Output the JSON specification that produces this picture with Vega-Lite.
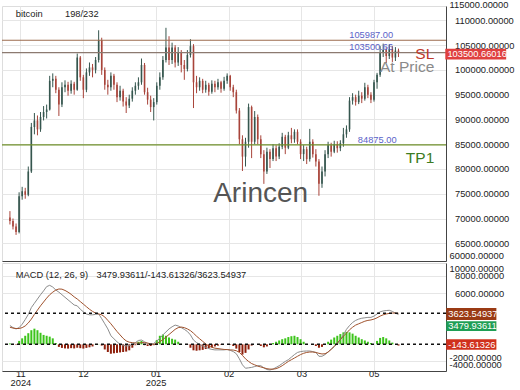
{
"$schema": "https://vega.github.io/schema/vega-lite/v6.json",
"padding": 0,
"autosize": {"type": "pad"},
"background": "#ffffff",
"spacing": 0,
"config": {
 "font": "Liberation Sans",
 "view": {"stroke": "#dddddd"},
 "axis": {"labelFont": "Liberation Sans", "labelFontSize": 9.3, "labelColor": "#222222", "gridColor": "#e6e6e6", "domainColor": "#444444", "ticks": false, "labelOverlap": false},
 "text": {"font": "Liberation Sans"}
},
"resolve": {"scale": {"y": "independent"}},
"datasets": {
"k": [
{"i":0,"o":70200,"h":71500,"l":68800,"c":69500,"m":2200,"s":2000,"d":100},
{"i":1,"o":69500,"h":70000,"l":67800,"c":68400,"m":1950,"s":1900,"d":50},
{"i":2,"o":68400,"h":69000,"l":66700,"c":67300,"m":1800,"s":1850,"d":-50},
{"i":3,"o":67300,"h":75300,"l":67000,"c":74500,"m":1950,"s":1850,"d":400},
{"i":4,"o":74500,"h":76400,"l":73800,"c":75500,"m":2350,"s":1950,"d":700},
{"i":5,"o":75500,"h":76200,"l":74000,"c":74800,"m":2900,"s":2150,"d":1000},
{"i":6,"o":74800,"h":80500,"l":74500,"c":79500,"m":3500,"s":2500,"d":1300},
{"i":7,"o":79500,"h":89300,"l":79200,"c":88500,"m":4300,"s":2950,"d":1650},
{"i":8,"o":88500,"h":91300,"l":87000,"c":89800,"m":4800,"s":3500,"d":1830},
{"i":9,"o":89800,"h":90800,"l":86800,"c":88000,"m":5300,"s":4000,"d":1650},
{"i":10,"o":88000,"h":91500,"l":87500,"c":90500,"m":5800,"s":4500,"d":1350},
{"i":11,"o":90500,"h":92700,"l":89800,"c":91500,"m":6250,"s":4950,"d":1100},
{"i":12,"o":91500,"h":93000,"l":90200,"c":92000,"m":6750,"s":5400,"d":1000},
{"i":13,"o":92000,"h":98800,"l":91800,"c":97800,"m":6900,"s":5800,"d":900},
{"i":14,"o":97800,"h":99300,"l":96500,"c":98200,"m":6700,"s":6100,"d":700},
{"i":15,"o":98200,"h":98800,"l":95300,"c":96000,"m":6350,"s":6350,"d":150},
{"i":16,"o":96000,"h":96500,"l":90700,"c":93000,"m":6100,"s":6470,"d":-300},
{"i":17,"o":93000,"h":97500,"l":92500,"c":96500,"m":5800,"s":6450,"d":-420},
{"i":18,"o":96500,"h":97900,"l":95500,"c":97000,"m":5500,"s":6300,"d":-480},
{"i":19,"o":97000,"h":97600,"l":94800,"c":95800,"m":5200,"s":6100,"d":-500},
{"i":20,"o":95800,"h":97900,"l":95200,"c":97200,"m":4900,"s":5850,"d":-450},
{"i":21,"o":97200,"h":97600,"l":95000,"c":96000,"m":4600,"s":5550,"d":-480},
{"i":22,"o":96000,"h":103300,"l":95800,"c":102500,"m":4500,"s":5300,"d":-400},
{"i":23,"o":102500,"h":102800,"l":97800,"c":98500,"m":4100,"s":5000,"d":-450},
{"i":24,"o":98500,"h":99000,"l":94300,"c":96000,"m":3800,"s":4700,"d":-500},
{"i":25,"o":96000,"h":100300,"l":95500,"c":99500,"m":3550,"s":4400,"d":-420},
{"i":26,"o":99500,"h":101500,"l":98800,"c":100500,"m":3450,"s":4100,"d":-350},
{"i":27,"o":100500,"h":101200,"l":98500,"c":100000,"m":3450,"s":3850,"d":-250},
{"i":28,"o":100000,"h":102600,"l":99300,"c":102000,"m":3500,"s":3650,"d":30},
{"i":29,"o":102000,"h":108000,"l":101500,"c":106000,"m":3550,"s":3550,"d":20},
{"i":30,"o":106000,"h":106500,"l":99000,"c":100000,"m":3000,"s":3450,"d":-150},
{"i":31,"o":100000,"h":100500,"l":96000,"c":97000,"m":2400,"s":3200,"d":-600},
{"i":32,"o":97000,"h":98000,"l":95000,"c":96500,"m":1800,"s":2800,"d":-900},
{"i":33,"o":96500,"h":99500,"l":95800,"c":98800,"m":1000,"s":2400,"d":-1100},
{"i":34,"o":98800,"h":99200,"l":96000,"c":97000,"m":650,"s":1950,"d":-1050},
{"i":35,"o":97000,"h":97500,"l":93500,"c":94500,"m":300,"s":1500,"d":-1000},
{"i":36,"o":94500,"h":96800,"l":93800,"c":95800,"m":0,"s":1100,"d":-950},
{"i":37,"o":95800,"h":96200,"l":92600,"c":93600,"m":-100,"s":700,"d":-900},
{"i":38,"o":93600,"h":94500,"l":91300,"c":92800,"m":-200,"s":400,"d":-850},
{"i":39,"o":92800,"h":95000,"l":92300,"c":94200,"m":-150,"s":250,"d":-700},
{"i":40,"o":94200,"h":96500,"l":93600,"c":95800,"m":-50,"s":200,"d":-400},
{"i":41,"o":95800,"h":97500,"l":95000,"c":96800,"m":200,"s":150,"d":-100},
{"i":42,"o":96800,"h":98500,"l":96000,"c":97500,"m":450,"s":150,"d":300},
{"i":43,"o":97500,"h":102300,"l":97000,"c":101000,"m":500,"s":200,"d":400},
{"i":44,"o":101000,"h":101400,"l":95000,"c":95500,"m":300,"s":200,"d":-100},
{"i":45,"o":95500,"h":96400,"l":93000,"c":94000,"m":100,"s":150,"d":-200},
{"i":46,"o":94000,"h":94800,"l":91500,"c":92500,"m":0,"s":50,"d":-200},
{"i":47,"o":92500,"h":94300,"l":89800,"c":93500,"m":100,"s":0,"d":-100},
{"i":48,"o":93500,"h":97500,"l":93000,"c":96800,"m":400,"s":100,"d":500},
{"i":49,"o":96800,"h":99500,"l":96000,"c":98500,"m":700,"s":300,"d":1000},
{"i":50,"o":98500,"h":102800,"l":98000,"c":102000,"m":1100,"s":550,"d":1150},
{"i":51,"o":102000,"h":108500,"l":101500,"c":104500,"m":1450,"s":850,"d":1000},
{"i":52,"o":104500,"h":106800,"l":101000,"c":102000,"m":1800,"s":1150,"d":800},
{"i":53,"o":102000,"h":105500,"l":101200,"c":104500,"m":2050,"s":1450,"d":650},
{"i":54,"o":104500,"h":105000,"l":100500,"c":101500,"m":2250,"s":1750,"d":550},
{"i":55,"o":101500,"h":104600,"l":100800,"c":103500,"m":2150,"s":1950,"d":300},
{"i":56,"o":103500,"h":104000,"l":99500,"c":101000,"m":1950,"s":2020,"d":50},
{"i":57,"o":101000,"h":102000,"l":98000,"c":100200,"m":1750,"s":1950,"d":0},
{"i":58,"o":100200,"h":104000,"l":99700,"c":103000,"m":1500,"s":1800,"d":-50},
{"i":59,"o":103000,"h":106200,"l":102500,"c":104800,"m":1100,"s":1600,"d":-400},
{"i":60,"o":104800,"h":105200,"l":92300,"c":97500,"m":500,"s":1300,"d":-700},
{"i":61,"o":97500,"h":98800,"l":95300,"c":96500,"m":200,"s":950,"d":-750},
{"i":62,"o":96500,"h":98500,"l":95800,"c":97800,"m":0,"s":650,"d":-700},
{"i":63,"o":97800,"h":98200,"l":95300,"c":96000,"m":-200,"s":350,"d":-650},
{"i":64,"o":96000,"h":97800,"l":95400,"c":97000,"m":-350,"s":50,"d":-550},
{"i":65,"o":97000,"h":97400,"l":94800,"c":95600,"m":-500,"s":-200,"d":-450},
{"i":66,"o":95600,"h":97900,"l":95200,"c":97200,"m":-600,"s":-350,"d":-350},
{"i":67,"o":97200,"h":97800,"l":95500,"c":96500,"m":-650,"s":-450,"d":-250},
{"i":68,"o":96500,"h":98200,"l":96000,"c":97500,"m":-650,"s":-500,"d":-150},
{"i":69,"o":97500,"h":97800,"l":95400,"c":96200,"m":-650,"s":-550,"d":-50},
{"i":70,"o":96200,"h":98600,"l":95800,"c":97800,"m":-650,"s":-600,"d":0},
{"i":71,"o":97800,"h":99300,"l":97200,"c":98800,"m":-600,"s":-620,"d":0},
{"i":72,"o":98800,"h":99000,"l":95800,"c":96500,"m":-700,"s":-650,"d":-50},
{"i":73,"o":96500,"h":97000,"l":94500,"c":95500,"m":-850,"s":-670,"d":-200},
{"i":74,"o":95500,"h":96000,"l":91200,"c":91800,"m":-1100,"s":-750,"d":-500},
{"i":75,"o":91800,"h":92300,"l":85000,"c":86000,"m":-1700,"s":-950,"d":-900},
{"i":76,"o":86000,"h":86800,"l":79600,"c":82500,"m":-2400,"s":-1300,"d":-1200},
{"i":77,"o":82500,"h":86300,"l":80500,"c":85500,"m":-2800,"s":-1700,"d":-1000},
{"i":78,"o":85500,"h":93200,"l":84300,"c":92500,"m":-2750,"s":-2000,"d":-600},
{"i":79,"o":92500,"h":92800,"l":82200,"c":85500,"m":-2700,"s":-2250,"d":-150},
{"i":80,"o":85500,"h":91700,"l":85000,"c":90500,"m":-2600,"s":-2400,"d":0},
{"i":81,"o":90500,"h":91000,"l":85000,"c":86000,"m":-2500,"s":-2550,"d":0},
{"i":82,"o":86000,"h":86800,"l":82200,"c":83000,"m":-2500,"s":-2650,"d":-200},
{"i":83,"o":83000,"h":83800,"l":77000,"c":79500,"m":-2750,"s":-2750,"d":-350},
{"i":84,"o":79500,"h":84300,"l":79000,"c":83500,"m":-2950,"s":-2850,"d":-250},
{"i":85,"o":83500,"h":84000,"l":80200,"c":82000,"m":-3000,"s":-2900,"d":0},
{"i":86,"o":82000,"h":85000,"l":81600,"c":84200,"m":-2900,"s":-2900,"d":150},
{"i":87,"o":84200,"h":84800,"l":81600,"c":82500,"m":-2700,"s":-2850,"d":300},
{"i":88,"o":82500,"h":85200,"l":82000,"c":84500,"m":-2500,"s":-2700,"d":450},
{"i":89,"o":84500,"h":87300,"l":84000,"c":86500,"m":-2250,"s":-2500,"d":600},
{"i":90,"o":86500,"h":86900,"l":83000,"c":84300,"m":-2000,"s":-2250,"d":700},
{"i":91,"o":84300,"h":87500,"l":84000,"c":86800,"m":-1800,"s":-2000,"d":850},
{"i":92,"o":86800,"h":88300,"l":85200,"c":86000,"m":-1500,"s":-1800,"d":950},
{"i":93,"o":86000,"h":88000,"l":85300,"c":87500,"m":-1200,"s":-1600,"d":1000},
{"i":94,"o":87500,"h":88000,"l":85000,"c":85500,"m":-950,"s":-1400,"d":850},
{"i":95,"o":85500,"h":86000,"l":82000,"c":83000,"m":-850,"s":-1200,"d":600},
{"i":96,"o":83000,"h":84800,"l":81600,"c":84000,"m":-800,"s":-1050,"d":300},
{"i":97,"o":84000,"h":84500,"l":81000,"c":82000,"m":-780,"s":-950,"d":50},
{"i":98,"o":82000,"h":88100,"l":81500,"c":85500,"m":-780,"s":-900,"d":0},
{"i":99,"o":85500,"h":86000,"l":82300,"c":83000,"m":-850,"s":-900,"d":-50},
{"i":100,"o":83000,"h":84000,"l":80500,"c":81500,"m":-950,"s":-950,"d":-200},
{"i":101,"o":81500,"h":82000,"l":74600,"c":77000,"m":-1400,"s":-1050,"d":-400},
{"i":102,"o":77000,"h":80500,"l":76200,"c":79500,"m":-1400,"s":-1130,"d":-300},
{"i":103,"o":79500,"h":83800,"l":78500,"c":83000,"m":-1200,"s":-1100,"d":0},
{"i":104,"o":83000,"h":85500,"l":82200,"c":84800,"m":-900,"s":-900,"d":300},
{"i":105,"o":84800,"h":85300,"l":82500,"c":83500,"m":-550,"s":-600,"d":550},
{"i":106,"o":83500,"h":85700,"l":83200,"c":85000,"m":-250,"s":-250,"d":800},
{"i":107,"o":85000,"h":85600,"l":83300,"c":84200,"m":50,"s":150,"d":1000},
{"i":108,"o":84200,"h":85800,"l":83600,"c":85200,"m":550,"s":550,"d":1200},
{"i":109,"o":85200,"h":88300,"l":84500,"c":87000,"m":1100,"s":950,"d":1400},
{"i":110,"o":87000,"h":88800,"l":86300,"c":88000,"m":1750,"s":1300,"d":1450},
{"i":111,"o":88000,"h":94500,"l":87500,"c":93800,"m":2200,"s":1700,"d":1400},
{"i":112,"o":93800,"h":95300,"l":93000,"c":94500,"m":2550,"s":2000,"d":1250},
{"i":113,"o":94500,"h":95000,"l":92800,"c":93500,"m":2800,"s":2250,"d":1000},
{"i":114,"o":93500,"h":95800,"l":93100,"c":94800,"m":2950,"s":2400,"d":800},
{"i":115,"o":94800,"h":95500,"l":93300,"c":94200,"m":3050,"s":2550,"d":600},
{"i":116,"o":94200,"h":97400,"l":93800,"c":96500,"m":3100,"s":2700,"d":450},
{"i":117,"o":96500,"h":97000,"l":94300,"c":95000,"m":3150,"s":2800,"d":300},
{"i":118,"o":95000,"h":95500,"l":93300,"c":94000,"m":3150,"s":2850,"d":150},
{"i":119,"o":94000,"h":98000,"l":93600,"c":97500,"m":3300,"s":2950,"d":0},
{"i":120,"o":97500,"h":99400,"l":96200,"c":99000,"m":3550,"s":3100,"d":400},
{"i":121,"o":99000,"h":104800,"l":98600,"c":103500,"m":3800,"s":3300,"d":750},
{"i":122,"o":103500,"h":105300,"l":102600,"c":104000,"m":3900,"s":3450,"d":850},
{"i":123,"o":104000,"h":104600,"l":101400,"c":102800,"m":3950,"s":3550,"d":700},
{"i":124,"o":102800,"h":105200,"l":102200,"c":104200,"m":3980,"s":3620,"d":450},
{"i":125,"o":104200,"h":104800,"l":101600,"c":102500,"m":3850,"s":3660,"d":200},
{"i":126,"o":102500,"h":104600,"l":101800,"c":103900,"m":3650,"s":3650,"d":0},
{"i":127,"o":103900,"h":104300,"l":102600,"c":103500.66016,"m":3479.93611,"s":3623.54937,"d":-143.61326}
],
"lv": [{"v":105987,"col":"#9c6b4e"},{"v":103500.66,"col":"#8c7a70"},{"v":84875,"col":"#6f8f2a"}],
"lt": [
 {"x":1.92,"y":111350,"t":"bitcoin","col":"#222222"},
 {"x":18,"y":111350,"t":"198/232","col":"#222222"},
 {"x":110.9,"y":107050,"t":"105987.00","col":"#5b62c8"},
 {"x":110.9,"y":104630,"t":"103500.66","col":"#5b62c8"},
 {"x":113.7,"y":85860,"t":"84875.00","col":"#5b62c8"}
],
"rt": [
 {"x":138.7,"y":103160,"t":"SL","col":"#c0392b"},
 {"x":138.7,"y":100650,"t":"At Price","col":"#8a8a8a"},
 {"x":138.7,"y":82225,"t":"TP1","col":"#3d7b22"}
],
"wm": [{"x":81.95,"y":74960,"t":"Arincen"}],
"ttag": [{"x1":142.3,"x2":162.2,"y1":104250,"y2":102100,"tx":143,"ty":103200,"t":"103500.66016","col":"#e0403f"}],
"tclamp": [{"x":143.7,"y":113100,"t":"115000.00000"},{"x":143.7,"y":62500,"t":"60000.00000"}],
"mlv": [{"v":3623.54937},{"v":0}],
"mt": [{"x":1.92,"y":8070,"t":"MACD (12, 26, 9)"},{"x":28.3,"y":8070,"t":"3479.93611/-143.61326/3623.54937"}],
"mtag": [
 {"x1":142.6,"x2":159,"y1":4245,"y2":2842,"tx":143.3,"ty":3600,"t":"3623.54937","col":"#9a3a14"},
 {"x1":142.6,"x2":159,"y1":2690,"y2":1555,"tx":143.3,"ty":2140,"t":"3479.93611","col":"#1f9e55"},
 {"x1":142.6,"x2":159,"y1":585,"y2":-632,"tx":143.3,"ty":-47,"t":"-143.61326","col":"#d0301c"}
],
"mclamp": [{"x":143.7,"y":8770,"t":"10000.00000"},{"x":143.7,"y":-1570,"t":"-2000.00000"},{"x":143.7,"y":-2456,"t":"-4000.00000"}]
},
"vconcat": [
{
 "width": 444,
 "height": 255,
 "layer": [
  {
   "data": {"name": "k"},
   "mark": {"type": "rule", "strokeWidth": 1},
   "encoding": {
    "x": {"field": "i", "type": "quantitative", "title": null,
     "scale": {"domain": [-0.958, 140.9], "nice": false, "zero": false},
     "axis": {"orient": "bottom", "values": [3.42, 23.87, 47.6, 71.47, 95.3, 118.9], "tickCount": 20, "labels": false, "ticks": false, "domain": true, "grid": true, "title": null}},
    "y": {"field": "l", "type": "quantitative", "title": null,
     "scale": {"domain": [61430, 112900], "nice": false, "zero": false},
     "axis": {"orient": "right", "values": [65000, 70000, 75000, 80000, 85000, 90000, 95000, 100000, 105000, 110000], "tickCount": 20, "format": ".5f", "grid": true, "domain": true, "labelPadding": 8.5, "labelOverlap": false, "title": null}},
    "y2": {"field": "h"},
    "color": {"condition": {"test": "datum.c >= datum.o", "value": "#35564e"}, "value": "#a8443a"}
   }
  },
  {
   "data": {"name": "k"},
   "mark": {"type": "bar", "size": 1.6},
   "encoding": {
    "x": {"field": "i", "type": "quantitative", "title": null},
    "y": {"field": "o", "type": "quantitative", "title": null},
    "y2": {"field": "c"},
    "color": {"condition": {"test": "datum.c >= datum.o", "value": "#35564e"}, "value": "#a8443a"}
   }
  },
  {
   "data": {"name": "lv"},
   "mark": {"type": "rule", "strokeWidth": 1.2},
   "encoding": {
    "y": {"field": "v", "type": "quantitative", "title": null},
    "color": {"field": "col", "type": "nominal", "scale": null}
   }
  },
  {
   "data": {"name": "lt"},
   "mark": {"type": "text", "align": "left", "baseline": "middle", "fontSize": 9.3},
   "encoding": {
    "x": {"field": "x", "type": "quantitative", "title": null},
    "y": {"field": "y", "type": "quantitative", "title": null},
    "text": {"field": "t"},
    "color": {"field": "col", "type": "nominal", "scale": null}
   }
  },
  {
   "data": {"name": "rt"},
   "mark": {"type": "text", "align": "right", "baseline": "middle", "fontSize": 15.5},
   "encoding": {
    "x": {"field": "x", "type": "quantitative", "title": null},
    "y": {"field": "y", "type": "quantitative", "title": null},
    "text": {"field": "t"},
    "color": {"field": "col", "type": "nominal", "scale": null}
   }
  },
  {
   "data": {"name": "wm"},
   "mark": {"type": "text", "align": "center", "baseline": "middle", "fontSize": 28, "color": "#555555"},
   "encoding": {
    "x": {"field": "x", "type": "quantitative", "title": null},
    "y": {"field": "y", "type": "quantitative", "title": null},
    "text": {"field": "t"}
   }
  },
  {
   "data": {"name": "ttag"},
   "mark": {"type": "rect"},
   "encoding": {
    "x": {"field": "x1", "type": "quantitative", "title": null},
    "x2": {"field": "x2"},
    "y": {"field": "y1", "type": "quantitative", "title": null},
    "y2": {"field": "y2"},
    "color": {"field": "col", "type": "nominal", "scale": null}
   }
  },
  {
   "data": {"name": "ttag"},
   "mark": {"type": "text", "align": "left", "baseline": "middle", "fontSize": 9.3, "color": "#ffffff"},
   "encoding": {
    "x": {"field": "tx", "type": "quantitative", "title": null},
    "y": {"field": "ty", "type": "quantitative", "title": null},
    "text": {"field": "t"}
   }
  },
  {
   "data": {"name": "tclamp"},
   "mark": {"type": "text", "align": "left", "baseline": "middle", "fontSize": 9.3, "color": "#222222"},
   "encoding": {
    "x": {"field": "x", "type": "quantitative", "title": null},
    "y": {"field": "y", "type": "quantitative", "title": null},
    "text": {"field": "t"}
   }
  }
 ]
},
{
 "width": 444,
 "height": 108,
 "layer": [
  {
   "data": {"name": "k"},
   "mark": {"type": "bar", "size": 2},
   "encoding": {
    "x": {"field": "i", "type": "quantitative", "title": null,
     "scale": {"domain": [-0.958, 140.9], "nice": false, "zero": false},
     "axis": {"orient": "bottom", "values": [3.42, 23.87, 47.6, 71.47, 95.3, 118.9], "tickCount": 20, "grid": true, "domain": true, "ticks": false, "labelPadding": -2, "labelLineHeight": 9.3, "labelOverlap": false, "labelFlush": false, "title": null,
      "labelExpr": "datum.value < 10 ? ['11', '2024'] : datum.value < 30 ? '12' : datum.value < 60 ? ['01', '2025'] : datum.value < 80 ? '02' : datum.value < 100 ? '03' : '05'"}},
    "y": {"field": "d", "type": "quantitative", "title": null,
     "scale": {"domain": [-3120, 9510], "nice": false, "zero": false},
     "axis": {"orient": "right", "values": [8000, 6000, -2000], "tickCount": 20, "format": ".5f", "grid": true, "domain": true, "labelPadding": 8.5, "labelOverlap": false, "title": null,
      "labelExpr": "datum.value == -2000 ? '' : datum.label"}},
    "y2": {"datum": 0},
    "color": {"condition": {"test": "datum.d >= 0", "value": "#3cc41a"}, "value": "#8e1f0b"}
   }
  },
  {
   "data": {"name": "k"},
   "mark": {"type": "line", "strokeWidth": 1, "color": "#8c8c8c"},
   "encoding": {
    "x": {"field": "i", "type": "quantitative", "title": null},
    "y": {"field": "m", "type": "quantitative", "title": null}
   }
  },
  {
   "data": {"name": "k"},
   "mark": {"type": "line", "strokeWidth": 1, "color": "#a0522d"},
   "encoding": {
    "x": {"field": "i", "type": "quantitative", "title": null},
    "y": {"field": "s", "type": "quantitative", "title": null}
   }
  },
  {
   "data": {"name": "mlv"},
   "mark": {"type": "rule", "strokeWidth": 1.5, "strokeDash": [3, 3], "color": "#111111"},
   "encoding": {
    "y": {"field": "v", "type": "quantitative", "title": null}
   }
  },
  {
   "data": {"name": "mt"},
   "mark": {"type": "text", "align": "left", "baseline": "middle", "fontSize": 9.3, "color": "#222222"},
   "encoding": {
    "x": {"field": "x", "type": "quantitative", "title": null},
    "y": {"field": "y", "type": "quantitative", "title": null},
    "text": {"field": "t"}
   }
  },
  {
   "data": {"name": "mtag"},
   "mark": {"type": "rect"},
   "encoding": {
    "x": {"field": "x1", "type": "quantitative", "title": null},
    "x2": {"field": "x2"},
    "y": {"field": "y1", "type": "quantitative", "title": null},
    "y2": {"field": "y2"},
    "color": {"field": "col", "type": "nominal", "scale": null}
   }
  },
  {
   "data": {"name": "mtag"},
   "mark": {"type": "text", "align": "left", "baseline": "middle", "fontSize": 9.3, "color": "#ffffff"},
   "encoding": {
    "x": {"field": "tx", "type": "quantitative", "title": null},
    "y": {"field": "ty", "type": "quantitative", "title": null},
    "text": {"field": "t"}
   }
  },
  {
   "data": {"name": "mclamp"},
   "mark": {"type": "text", "align": "left", "baseline": "middle", "fontSize": 9.3, "color": "#222222"},
   "encoding": {
    "x": {"field": "x", "type": "quantitative", "title": null},
    "y": {"field": "y", "type": "quantitative", "title": null},
    "text": {"field": "t"}
   }
  }
 ]
}
]
}
